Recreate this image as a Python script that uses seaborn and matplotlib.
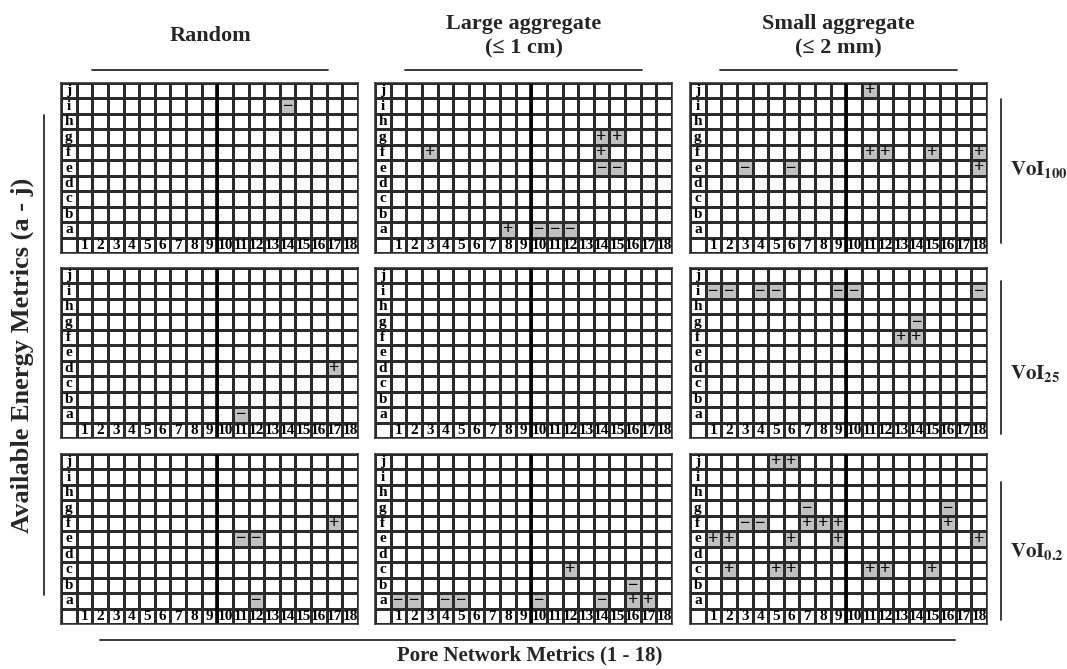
import numpy as np
import pandas as pd
import matplotlib
matplotlib.use("Agg")
import matplotlib.pyplot as plt
from matplotlib.colors import ListedColormap
from matplotlib.lines import Line2D
import seaborn as sns

# Axes categories
energy_metrics = list("abcdefghij")            # rows a - j
pore_metrics = [str(i) for i in range(1, 19)]   # columns 1 - 18
scenarios = ["Random", "Large aggregate\n(≤ 1 cm)", "Small aggregate\n(≤ 2 mm)"]
voi_levels = ["100", "25", "0.2"]

# Significant correlations per panel: <energy letter><pore number><sign>
random_voi100 = ["i14-"]
large_voi100 = ["g14+", "g15+", "f3+", "f14+", "e14-", "e15-", "a8+", "a10-", "a11-", "a12-"]
small_voi100 = ["j11+", "f11+", "f12+", "f15+", "f18+", "e3-", "e6-", "e18+"]

random_voi25 = ["d17+", "a11-"]
large_voi25 = []
small_voi25 = ["i1-", "i2-", "i4-", "i5-", "i9-", "i10-", "i18-", "g14-", "f13+", "f14+"]

random_voi02 = ["f17+", "e11-", "e12-", "a12-"]
large_voi02 = ["c12+", "b16-", "a1-", "a2-", "a4-", "a5-", "a10-", "a14-", "a16+", "a17+"]
small_voi02 = ["j5+", "j6+", "g7-", "g16-", "f3-", "f4-", "f7+", "f8+", "f9+", "f16+",
               "e1+", "e2+", "e6+", "e9+", "e18+", "c2+", "c5+", "c6+", "c11+", "c12+", "c15+"]

panels = [
    [random_voi100, large_voi100, small_voi100],
    [random_voi25, large_voi25, small_voi25],
    [random_voi02, large_voi02, small_voi02],
]

SERIF = "Liberation Serif"
sns.set_theme(style="white")
plt.rcParams["font.family"] = [SERIF, "DejaVu Serif"]
plt.rcParams["font.weight"] = "bold"
plt.rcParams["mathtext.fontset"] = "stix"

LINE = "#2b2b2b"
SHADE = "#c0c0c0"
SIGNS = ("+", "\u2212")


def panel_tables(entries):
    rows = energy_metrics[::-1] + [" "]
    cols = [" "] + pore_metrics
    values = pd.DataFrame(0, index=rows, columns=cols)
    text = pd.DataFrame("", index=rows, columns=cols)
    for r in energy_metrics:
        text.loc[r, " "] = r
    for c in pore_metrics:
        text.loc[" ", c] = c
    for e in entries:
        letter, col, sign = e[0], e[1:-1], e[-1]
        values.loc[letter, col] = 1
        text.loc[letter, col] = SIGNS[0] if sign == "+" else SIGNS[1]
    return values, text


W, H = 1067, 669
fig = plt.figure(figsize=(W / 100, H / 100), dpi=100)

col_left = [61, 375, 690]
row_top = [83, 268, 454]
pw, ph = 297, 170

for i, row in enumerate(panels):
    for j, entries in enumerate(row):
        ax = fig.add_axes([col_left[j] / W, 1 - (row_top[i] + ph) / H, pw / W, ph / H])
        values, text = panel_tables(entries)
        sns.heatmap(values, ax=ax, cmap=ListedColormap(["white", SHADE]), vmin=0, vmax=1,
                    cbar=False, linewidths=0.75, linecolor=LINE,
                    annot=text.values, fmt="",
                    annot_kws={"fontsize": 11, "fontweight": "bold", "family": SERIF,
                               "color": "black"},
                    xticklabels=False, yticklabels=False)
        # signs are set a little larger than the row/column labels
        for t in ax.texts:
            if t.get_text() in SIGNS:
                t.set_fontsize(13)
        ax.axvline(10, color="black", lw=2.6)
        for s in ax.spines.values():
            s.set_visible(True)
            s.set_color(LINE)
            s.set_linewidth(1.1)


def fig_line(x0, y0, x1, y1, lw=1.3):
    fig.add_artist(Line2D([x0 / W, x1 / W], [1 - y0 / H, 1 - y1 / H],
                          color=LINE, lw=lw, transform=fig.transFigure))


# Column headers with underline
header_cx = [210, 524, 838]
underline = [(92, 328), (405, 642), (720, 957)]
for cx, title, (x0, x1) in zip(header_cx, scenarios, underline):
    fig.text(cx / W, 1 - 36 / H, title, ha="center", va="center", fontsize=16,
             fontweight="bold", linespacing=1.3)
    fig_line(x0, 70, x1, 70)

# Row labels with bracket lines
voi_y = [170, 374, 552]
voi_lines = [(99, 243), (281, 434), (482, 620)]
for y, lvl, (y0, y1) in zip(voi_y, voi_levels, voi_lines):
    fig.text(1010 / W, 1 - y / H, r"$\mathbf{VoI}_{\mathbf{" + lvl + "}}$",
             ha="left", va="center", fontsize=15)
    fig_line(1001, y0, 1001, y1)

# Shared axis titles
fig.text(22 / W, 1 - 355 / H, "Available Energy Metrics (a - j)", rotation=90,
         ha="center", va="center", fontsize=19, fontweight="bold")
fig_line(44, 115, 44, 595)
fig.text(530 / W, 1 - 655 / H, "Pore Network Metrics (1 - 18)",
         ha="center", va="center", fontsize=15, fontweight="bold")
fig_line(100, 640, 955, 640)

fig.savefig("out.png", dpi=100)
